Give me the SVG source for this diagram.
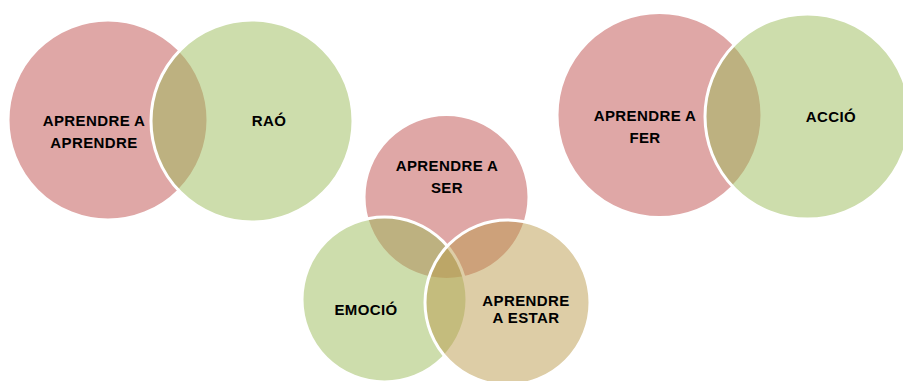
<svg xmlns="http://www.w3.org/2000/svg" width="903" height="381" viewBox="0 0 903 381">
<style>
.c{stroke:#fff;stroke-width:3}
.p{fill:rgb(192,80,77);fill-opacity:.5}
.g{fill:rgb(155,187,89);fill-opacity:.5}
.t{fill:rgb(187,155,77);fill-opacity:.5}
text{font-family:"Liberation Sans",Arial,sans-serif;font-weight:bold;font-size:15px;letter-spacing:.4px;fill:#000;text-anchor:middle}
</style>
<rect width="903" height="381" fill="#fff"/>
<g id="aprendre-a-aprendre"><circle class="c p" cx="108" cy="120" r="100"/><text x="94" y="125.5">APRENDRE A</text><text x="94" y="147.5">APRENDRE</text></g>
<g id="rao"><circle class="c g" cx="252" cy="121" r="101"/><text x="269" y="126">RAÓ</text></g>
<g id="aprendre-a-ser"><circle class="c p" cx="446.5" cy="197" r="82.5"/><text x="447" y="171">APRENDRE A</text><text x="447" y="193">SER</text></g>
<g id="emocio"><circle class="c g" cx="384.5" cy="299.5" r="82.5"/><text x="366" y="315">EMOCIÓ</text></g>
<g id="aprendre-a-estar"><circle class="c t" cx="507.5" cy="302.5" r="82.5"/><text x="526" y="306">APRENDRE</text><text x="526" y="322.5">A ESTAR</text></g>
<g id="aprendre-a-fer"><circle class="c p" cx="659.5" cy="115" r="102.5"/><text x="645" y="121">APRENDRE A</text><text x="645" y="143">FER</text></g>
<g id="accio"><circle class="c g" cx="807.5" cy="116.5" r="102.5"/><text x="831" y="122">ACCIÓ</text></g>
<g id="connectors"/>
</svg>
